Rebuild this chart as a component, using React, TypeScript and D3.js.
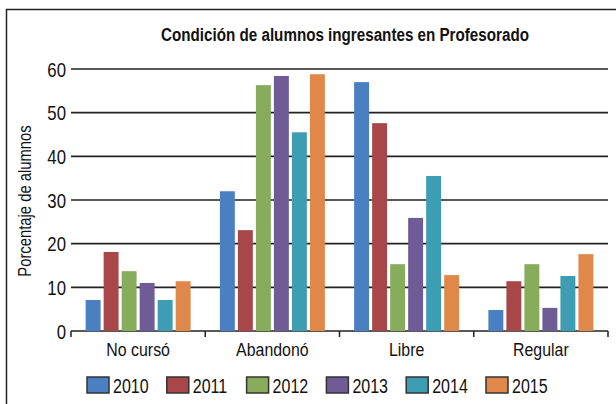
import React from "react";
import * as d3 from "d3";

const categories = ["No cursó", "Abandonó", "Libre", "Regular"];
const years = ["2010", "2011", "2012", "2013", "2014", "2015"];
const values2010 = [7.1, 32.0, 57.0, 4.8];
const values2011 = [18.1, 23.1, 47.6, 11.4];
const values2012 = [13.7, 56.3, 15.3, 15.3];
const values2013 = [11.0, 58.4, 25.9, 5.3];
const values2014 = [7.1, 45.5, 35.5, 12.6];
const values2015 = [11.4, 58.8, 12.8, 17.6];
const yTicks = [0, 10, 20, 30, 40, 50, 60];
const colors = ["#4A7FC1", "#A8474A", "#86AC5C", "#6F5C96", "#3C9DB3", "#E0874A"];

const title = "Condición de alumnos ingresantes en Profesorado";
const yLabel = "Porcentaje de alumnos";

const series = [values2010, values2011, values2012, values2013, values2014, values2015];

const W = 616;
const H = 404;
const left = 71;
const right = 608;
const top = 69;
const bottom = 331;
const SX = 0.8;
const FONT = "'Liberation Sans', Arial, sans-serif";
const INK = "#222";

export default function App() {
  const x = d3
    .scaleBand<string>()
    .domain(categories)
    .range([left, right])
    .paddingInner(0.218)
    .paddingOuter(0.109);
  const xInner = d3
    .scaleBand<string>()
    .domain(years)
    .range([0, x.bandwidth()])
    .paddingInner(0.17)
    .paddingOuter(0);
  const y = d3.scaleLinear().domain([0, 60]).range([bottom, top]);
  const step = (right - left) / categories.length;
  const tickXs = d3.range(categories.length + 1).map((i) => left + i * step);

  return (
    <svg
      width={W}
      height={H}
      style={{ display: "block", position: "absolute", left: 0, top: 0, background: "#fff" }}
      fontFamily={FONT}
    >
      <rect x={0} y={0} width={W} height={H} fill="#fff" />
      {/* frame */}
      <path d={`M6.5,${H + 5}V9.5H${W + 5}`} fill="none" stroke={INK} strokeWidth={1.5} />

      {/* title */}
      <text
        transform={`translate(345,41) scale(${SX},1)`}
        textAnchor="middle"
        fontSize={19}
        fontWeight="bold"
        fill="#111"
      >
        {title}
      </text>

      {/* gridlines */}
      {yTicks.map((t) => (
        <line key={t} x1={left} x2={right} y1={y(t)} y2={y(t)} stroke={INK} strokeWidth={1.6} />
      ))}
      {/* x axis ticks */}
      {tickXs.map((tx, i) => (
        <line key={i} x1={tx} x2={tx} y1={bottom} y2={bottom + 6} stroke={INK} strokeWidth={1.5} />
      ))}
      {/* y tick labels */}
      {yTicks.map((t) => (
        <text
          key={t}
          transform={`translate(66,${y(t) + 7.5}) scale(0.84,1)`}
          textAnchor="end"
          fontSize={20}
          fill="#111"
        >
          {t}
        </text>
      ))}

      {/* y label */}
      <text
        transform={`translate(31,201) rotate(-90) scale(0.78,1)`}
        textAnchor="middle"
        fontSize={19}
        fill="#111"
      >
        {yLabel}
      </text>

      {/* bars */}
      {categories.map((c, ci) => (
        <g key={c}>
          {years.map((yr, si) => {
            const v = series[si][ci];
            return (
              <rect
                key={yr}
                x={(x(c) ?? 0) + (xInner(yr) ?? 0)}
                y={y(v)}
                width={xInner.bandwidth()}
                height={bottom - y(v)}
                fill={colors[si]}
              />
            );
          })}
        </g>
      ))}

      {/* x labels */}
      {categories.map((c) => (
        <text
          key={c}
          transform={`translate(${(x(c) ?? 0) + x.bandwidth() / 2},356) scale(0.86,1)`}
          textAnchor="middle"
          fontSize={18.5}
          fill="#111"
        >
          {c}
        </text>
      ))}

      {/* legend */}
      {years.map((yr, i) => {
        const lx = 87 + i * 79.8;
        return (
          <g key={yr}>
            <rect x={lx} y={377} width={22} height={16} fill={colors[i]} stroke="#333" strokeWidth={1.5} />
            <text
              transform={`translate(${lx + 26},392.5) scale(0.8,1)`}
              fontSize={20}
              fill="#111"
            >
              {yr}
            </text>
          </g>
        );
      })}
    </svg>
  );
}
